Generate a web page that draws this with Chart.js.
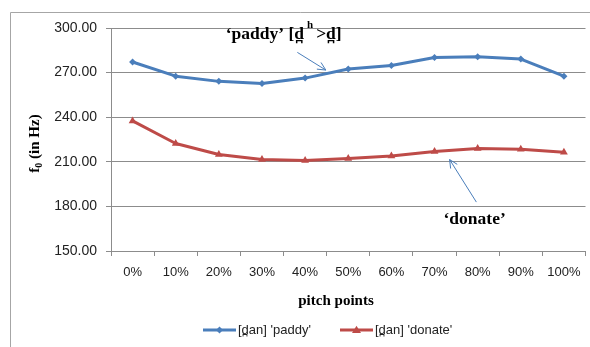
<!DOCTYPE html>
<html>
<head>
<meta charset="utf-8">
<script src="https://cdn.jsdelivr.net/npm/chart.js@4.4.1/dist/chart.umd.min.js"></script>
<style>
  html, body { margin: 0; padding: 0; background: #fff; }
  #wrap { width: 590px; height: 347px; position: relative; }
</style>
</head>
<body>
<div id="wrap"><canvas id="c" width="590" height="347"></canvas></div>
<script>
// Pitch points along the vowel (percent of duration)
const categories = ['0%', '10%', '20%', '30%', '40%', '50%', '60%', '70%', '80%', '90%', '100%'];

// f0 values in Hz
const paddyF0 = [277.1, 267.6, 264.1, 262.7, 266.3, 272.4, 274.8, 280.2, 280.7, 279.1, 267.6];
const donateF0 = [237.5, 222.3, 214.9, 211.5, 210.8, 212.2, 213.9, 216.9, 218.9, 218.4, 216.4];

// Value axis
const yTickValues = [150, 180, 210, 240, 270, 300];

const seriesNames = ["[d\u032Aan] 'paddy'", "[d\u032Aan] 'donate'"];

const BLUE = '#4a7ebb';
const RED = '#be4b48';
const GRID = '#8c8c8c';
const SERIF = '"Liberation Serif", "DejaVu Serif", serif';
const SANS = '"Liberation Sans", Arial, sans-serif';

function drawMarker(ctx, style, x, y, r, color) {
  ctx.save();
  ctx.fillStyle = color;
  ctx.beginPath();
  if (style === 'rectRot') {
    ctx.moveTo(x, y - r); ctx.lineTo(x + r, y); ctx.lineTo(x, y + r); ctx.lineTo(x - r, y);
  } else {
    const h = r * 1.6;
    ctx.moveTo(x, y - h * 0.6); ctx.lineTo(x + r, y + h * 0.4); ctx.lineTo(x - r, y + h * 0.4);
  }
  ctx.closePath();
  ctx.fill();
  ctx.restore();
}

function arrow(ctx, x1, y1, x2, y2, color) {
  ctx.save();
  ctx.strokeStyle = color;
  ctx.lineWidth = 1;
  ctx.beginPath(); ctx.moveTo(x1, y1); ctx.lineTo(x2, y2); ctx.stroke();
  const a = Math.atan2(y2 - y1, x2 - x1), L = 9, s = 0.45;
  ctx.beginPath();
  ctx.moveTo(x2 - L * Math.cos(a - s), y2 - L * Math.sin(a - s));
  ctx.lineTo(x2, y2);
  ctx.lineTo(x2 - L * Math.cos(a + s), y2 - L * Math.sin(a + s));
  ctx.stroke();
  ctx.restore();
}

// Frame, axis titles, callouts and legend
const decorations = {
  id: 'decorations',
  beforeDraw(chart) {
    const ctx = chart.ctx;
    ctx.save();
    ctx.fillStyle = '#fff';
    ctx.fillRect(0, 0, chart.width, chart.height);
    ctx.strokeStyle = '#a6a6a6';
    ctx.lineWidth = 1;
    ctx.beginPath();
    ctx.moveTo(10.5, chart.height);
    ctx.lineTo(10.5, 12.5);
    ctx.lineTo(chart.width, 12.5);
    ctx.stroke();
    ctx.restore();
  },
  afterDraw(chart) {
    const ctx = chart.ctx;
    const xs = chart.scales.x, ys = chart.scales.y;
    const area = chart.chartArea;
    const px = v => xs.getPixelForValue(v);
    const py = v => ys.getPixelForValue(v);

    ctx.save();
    ctx.fillStyle = '#000';

    // y-axis title: f0 (in Hz)
    ctx.save();
    ctx.translate(39, (area.top + area.bottom) / 2 + 4);
    ctx.rotate(-Math.PI / 2);
    ctx.font = 'bold 15px ' + SERIF;
    ctx.textBaseline = 'alphabetic';
    const fW = ctx.measureText('f').width;
    ctx.font = 'bold 10px ' + SERIF;
    const zW = ctx.measureText('0').width;
    ctx.font = 'bold 15px ' + SERIF;
    const restW = ctx.measureText(' (in Hz)').width;
    let tx = -(fW + zW + restW) / 2;
    ctx.fillText('f', tx, 0); tx += fW;
    ctx.font = 'bold 10px ' + SERIF;
    ctx.fillText('0', tx, 3); tx += zW;
    ctx.font = 'bold 15px ' + SERIF;
    ctx.fillText(' (in Hz)', tx, 0);
    ctx.restore();

    // x-axis title
    ctx.font = 'bold 15px ' + SERIF;
    ctx.textAlign = 'center';
    ctx.textBaseline = 'middle';
    ctx.fillText('pitch points', 336, 301);

    // callout for the 'paddy' series
    ctx.textAlign = 'left';
    ctx.textBaseline = 'alphabetic';
    ctx.font = 'bold 17.5px ' + SERIF;
    const p1 = '\u2018paddy\u2019 [d\u032A';
    let x0 = px(2.16), base = py(292.6);
    ctx.fillText(p1, x0, base);
    x0 += ctx.measureText(p1).width + 3;
    ctx.font = 'bold 11px ' + SERIF;
    ctx.fillText('h', x0, base - 11);
    x0 += ctx.measureText('h').width + 3;
    ctx.font = 'bold 17.5px ' + SERIF;
    ctx.fillText('>d\u032A]', x0, base);
    arrow(ctx, px(3.82), py(283.6), px(4.48), py(271.7), BLUE);

    // callout for the 'donate' series
    ctx.textAlign = 'center';
    ctx.fillText('\u2018donate\u2019', px(7.93), py(167.9));
    arrow(ctx, px(7.97), py(182.9), px(7.35), py(211.5), BLUE);

    // legend
    const ly = 330;
    const items = [
      { name: seriesNames[0], color: BLUE, style: 'rectRot', r: 3.5, x: 203 },
      { name: seriesNames[1], color: RED, style: 'triangle', r: 4.5, x: 340 }
    ];
    ctx.font = '13px ' + SANS;
    ctx.textAlign = 'left';
    ctx.textBaseline = 'middle';
    items.forEach(it => {
      ctx.save();
      ctx.strokeStyle = it.color;
      ctx.lineWidth = 3;
      ctx.beginPath(); ctx.moveTo(it.x, ly); ctx.lineTo(it.x + 33, ly); ctx.stroke();
      ctx.restore();
      drawMarker(ctx, it.style, it.x + 16.5, ly, it.r, it.color);
      ctx.fillStyle = '#222';
      ctx.fillText(it.name, it.x + 35, ly);
    });
    ctx.restore();
  }
};

new Chart(document.getElementById('c'), {
  type: 'line',
  data: {
    labels: categories,
    datasets: [
      {
        label: seriesNames[0], data: paddyF0,
        borderColor: BLUE, backgroundColor: BLUE, borderWidth: 3,
        pointStyle: 'rectRot', pointRadius: 3.5, pointBorderWidth: 0,
        tension: 0, borderJoinStyle: 'round'
      },
      {
        label: seriesNames[1], data: donateF0,
        borderColor: RED, backgroundColor: RED, borderWidth: 3,
        pointStyle: 'triangle', pointRadius: 4.5, pointBorderWidth: 0,
        tension: 0, borderJoinStyle: 'round'
      }
    ]
  },
  options: {
    responsive: false,
    animation: false,
    devicePixelRatio: 1,
    layout: { padding: { left: 0, top: 28, right: 4, bottom: 0 } },
    plugins: { legend: { display: false }, tooltip: { enabled: false } },
    scales: {
      x: {
        offset: true,
        grid: { display: true, offset: true, drawOnChartArea: false, drawTicks: true, tickLength: 5, color: GRID },
        border: { color: GRID, width: 1 },
        ticks: { color: '#222', font: { family: SANS, size: 13 }, padding: 9, maxRotation: 0, autoSkip: false },
        afterFit(scale) { scale.height = 96; }
      },
      y: {
        min: yTickValues[0], max: yTickValues[yTickValues.length - 1],
        afterBuildTicks(scale) { scale.ticks = yTickValues.map(v => ({ value: v })); },
        grid: { color: GRID, tickLength: 5, drawTicks: true },
        border: { color: GRID, width: 1 },
        ticks: { color: '#222', font: { family: SANS, size: 14 }, padding: 9, callback: v => Number(v).toFixed(2) },
        afterFit(scale) { scale.width = 111; }
      }
    }
  },
  plugins: [decorations]
});
</script>
</body>
</html>
